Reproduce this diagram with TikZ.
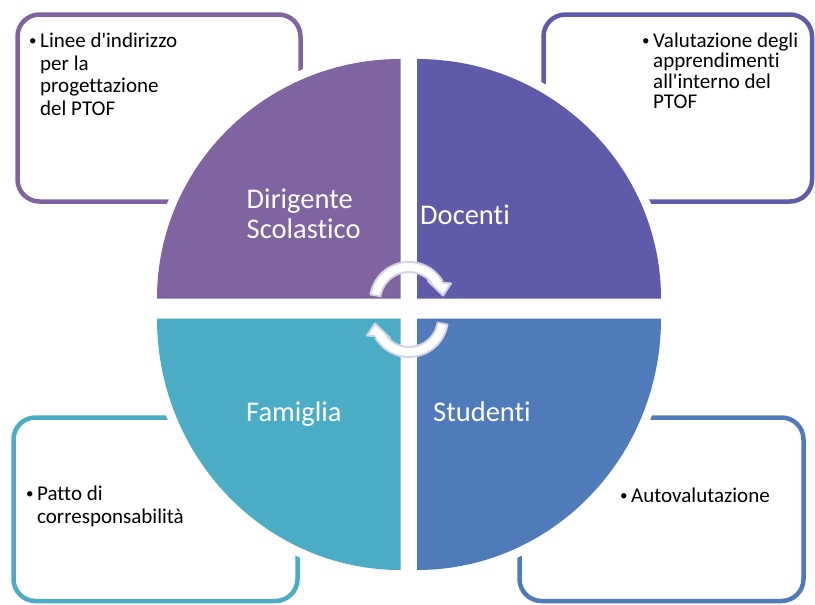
\documentclass[tikz,border=0pt]{standalone}
\usepackage{fontspec}
\setmainfont{Carlito}[Ligatures={NoCommon}]
\usetikzlibrary{calc}
\definecolor{cTL}{RGB}{128,100,162}
\definecolor{cTR}{RGB}{95,91,170}
\definecolor{cBL}{RGB}{75,172,198}
\definecolor{cBR}{RGB}{79,123,186}
\definecolor{lav}{RGB}{214,210,230}
\newcommand{\bul}{\leavevmode\llap{\raisebox{1.6pt}{\fontsize{15}{15}\selectfont\textbullet}\hspace{3.5pt}}}
\begin{document}
\begin{tikzpicture}[x=1pt,y=-1pt,
  infobox/.style={line width=4.5pt, rounded corners=22pt, fill=white},
  halo/.style={draw=white, line width=18pt, line join=round},
  qlabel/.style={text=white, font=\fontsize{28.5}{30.3}\selectfont, inner sep=0pt, anchor=base west},
  btext/.style={inner sep=0pt, anchor=base west},
  arrowout/.style={draw=lav, line width=12pt},
  arrowin/.style={draw=white, line width=8pt},
  arrowhead/.style={fill=white, draw=lav, line width=2pt, line join=round},
]
\useasboundingbox (0,0) rectangle (815,605);

% corner boxes
\draw[infobox, draw=cTL] (17.5,14.5) rectangle (300.5,201.5);
\draw[infobox, draw=cTR] (543.5,14.5) rectangle (812,201.5);
\draw[infobox, draw=cBL] (13.5,417.5) rectangle (297.5,601);
\draw[infobox, draw=cBR] (519.5,417.5) rectangle (803.5,601);

% quadrants: white halo then fill
\path[halo] (400.5,298.5) -- (157,298.5) arc[start angle=180,end angle=270,x radius=243.5,y radius=239.5] -- cycle;
\path[halo] (417,298.5) -- (417,59) arc[start angle=270,end angle=360,x radius=244,y radius=239.5] -- cycle;
\path[halo] (400.5,318.5) -- (400.5,570) arc[start angle=90,end angle=180,x radius=243.5,y radius=251.5] -- cycle;
\path[halo] (417,318.5) -- (661,318.5) arc[start angle=0,end angle=90,x radius=244,y radius=251.5] -- cycle;
\fill[cTL] (400.5,298.5) -- (157,298.5) arc[start angle=180,end angle=270,x radius=243.5,y radius=239.5] -- cycle;
\fill[cTR] (417,298.5) -- (417,59) arc[start angle=270,end angle=360,x radius=244,y radius=239.5] -- cycle;
\fill[cBL] (400.5,318.5) -- (400.5,570) arc[start angle=90,end angle=180,x radius=243.5,y radius=251.5] -- cycle;
\fill[cBR] (417,318.5) -- (661,318.5) arc[start angle=0,end angle=90,x radius=244,y radius=251.5] -- cycle;

% quadrant labels
\node[qlabel] (dir) at (246.5,208) {\parbox[t]{150pt}{Dirigente\\Scolastico}};
\node[qlabel] (doc) at (420,224) {Docenti};
\node[qlabel] (fam) at (246,421) {Famiglia};
\node[qlabel] (stu) at (433,421) {Studenti};

% central circular arrows
\coordinate (tc) at (409,301);
\coordinate (bc) at (409,318);
\draw[arrowout] ($(tc)+(-172:34)$) arc[start angle=-172,end angle=-30,radius=34];
\draw[arrowhead] ($(tc)+(19,-20)$) -- ($(tc)+(42,-17.5)$) -- ($(tc)+(34,-5.5)$) -- cycle;
\draw[arrowin] ($(tc)+(-169:34)$) arc[start angle=-169,end angle=-27,radius=34];

\draw[arrowout] ($(bc)+(8:34)$) arc[start angle=8,end angle=150,radius=34];
\draw[arrowhead] ($(bc)+(-19,20)$) -- ($(bc)+(-42,17.5)$) -- ($(bc)+(-34,5.5)$) -- cycle;
\draw[arrowin] ($(bc)+(11:34)$) arc[start angle=11,end angle=153,radius=34];

% box texts
\node[btext] (ttl) at (40,47) {\fontsize{21}{23}\selectfont\parbox[t]{200pt}{\raggedright\bul Linee d\textquotesingle indirizzo\\per la\\progettazione\\del PTOF}};
\node[btext] (ttr) at (653,47) {\fontsize{21}{20.5}\selectfont\parbox[t]{200pt}{\raggedright\bul Valutazione degli\\apprendimenti\\all\textquotesingle interno del\\PTOF}};
\node[btext] (tbl) at (37,500) {\fontsize{21}{23}\selectfont\parbox[t]{200pt}{\raggedright\bul Patto di\\corresponsabilità}};
\node[btext] (tbr) at (631,502) {\fontsize{21}{23}\selectfont\bul Autovalutazione};
\end{tikzpicture}
\end{document}
